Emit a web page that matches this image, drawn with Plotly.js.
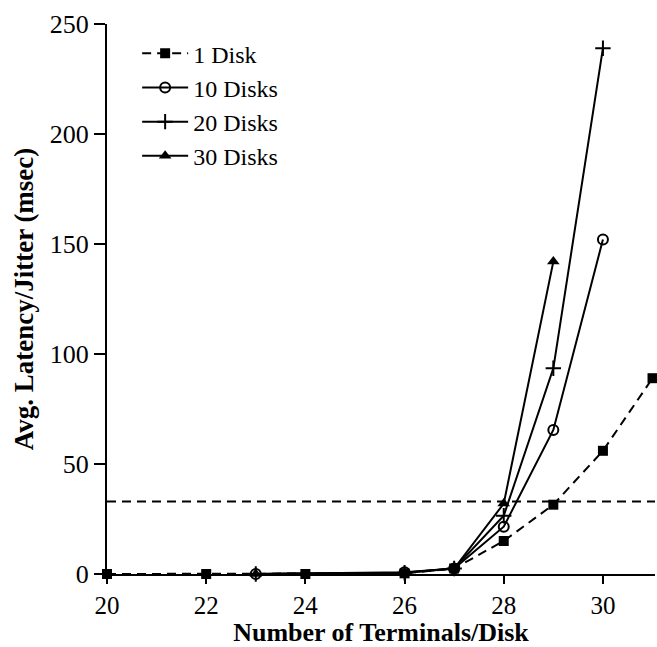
<!DOCTYPE html>
<html>
<head>
<meta charset="utf-8">
<script src="https://cdn.plot.ly/plotly-3.0.1.min.js"></script>
<style>html,body{margin:0;padding:0;background:#fff;}#chart{width:657px;height:647px;}</style>
</head>
<body>
<div id="chart"></div>
<script>
const seriesNames = ["1 Disk", "10 Disks", "20 Disks", "30 Disks"];
const x1 = [20, 22, 24, 26, 27, 28, 29, 30, 31];
const y1 = [0, 0, 0, 0.3, 2.5, 15, 31.5, 56, 89];
const x10 = [23, 26, 27, 28, 29, 30];
const y10 = [0, 0.8, 2.5, 21.5, 65.5, 152];
const x20 = [23, 26, 27, 28, 29, 30];
const y20 = [0, 0.6, 2.5, 26.5, 93.5, 239];
const x30 = [23, 26, 27, 28, 29];
const y30 = [0, 0.6, 2.5, 32, 142];
const thresholdY = 33;
const xTicks = [20, 22, 24, 26, 28, 30];
const yTicks = [0, 50, 100, 150, 200, 250];

const black = "#000";
const FONT = "Liberation Serif, Times New Roman, serif";
const traces = [
  {x: x1, y: y1, name: seriesNames[0], mode: "lines+markers",
   line: {color: black, width: 2, dash: "9px,6px"},
   marker: {symbol: "square", size: 10, color: black}},
  {x: x10, y: y10, name: seriesNames[1], mode: "lines+markers",
   line: {color: black, width: 2},
   marker: {symbol: "circle-open", size: 10, color: black, line: {width: 2, color: black}}},
  {x: x20, y: y20, name: seriesNames[2], mode: "lines+markers",
   line: {color: black, width: 2},
   marker: {symbol: "cross-thin-open", size: 11, color: black, line: {width: 2, color: black}}},
  {x: x30, y: y30, name: seriesNames[3], mode: "lines+markers",
   line: {color: black, width: 2},
   marker: {symbol: "triangle-up", size: 11, color: black}}
].map(t => Object.assign(t, {cliponaxis: false}));

const layout = {
  width: 657, height: 647,
  margin: {l: 107, r: 2, t: 24, b: 73},
  paper_bgcolor: "#fff", plot_bgcolor: "#fff",
  font: {family: FONT, color: black, size: 26},
  showlegend: true,
  legend: {x: 0.055, y: 0.987, xanchor: "left", yanchor: "top", itemwidth: 46,
           bgcolor: "rgba(0,0,0,0)", font: {family: FONT, size: 24}, tracegroupgap: 0},
  xaxis: {range: [20, 31.05], tickvals: xTicks, ticktext: xTicks.map(String),
          showgrid: false, zeroline: false, showline: true, linecolor: black, linewidth: 2,
          ticks: "outside", ticklen: 8, tickwidth: 2, tickcolor: black,
          tickfont: {family: FONT, size: 25},
          title: {text: "<b>Number of Terminals/Disk</b>", font: {family: FONT, size: 26}, standoff: 16}},
  yaxis: {range: [0, 250], tickvals: yTicks, ticktext: yTicks.map(String),
          showgrid: false, zeroline: false, showline: true, linecolor: black, linewidth: 2,
          ticks: "outside", ticklen: 11, tickwidth: 2, tickcolor: black,
          tickfont: {family: FONT, size: 26},
          title: {text: "<b>Avg. Latency/Jitter (msec)</b>", font: {family: FONT, size: 27}, standoff: 8}},
  shapes: [{type: "line", xref: "paper", x0: 0, x1: 1, yref: "y", y0: thresholdY, y1: thresholdY,
            line: {color: black, width: 2, dash: "9px,6px"}}]
};

Plotly.newPlot("chart", traces, layout, {displayModeBar: false, staticPlot: true});
</script>
</body>
</html>
